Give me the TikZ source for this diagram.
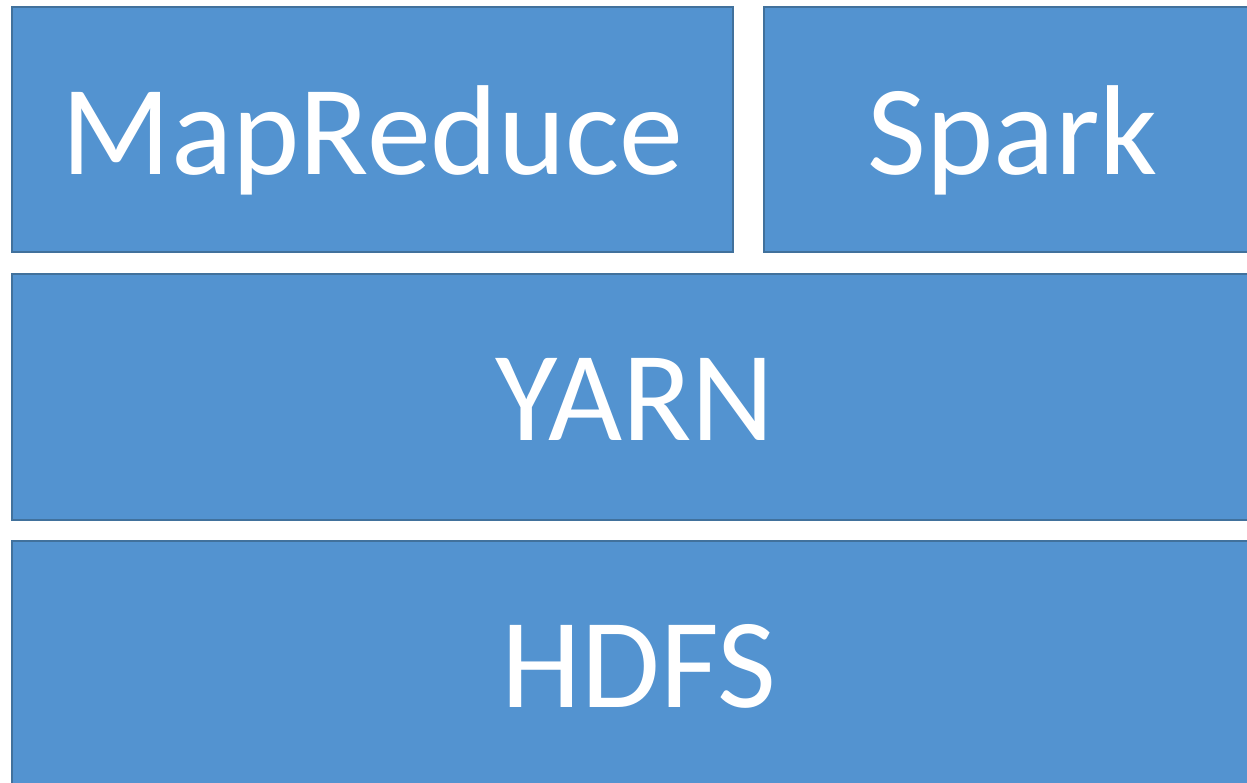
\documentclass[tikz,border=0pt]{standalone}
\usepackage{fontspec}
\setmainfont{Carlito}
\definecolor{boxfill}{HTML}{5393D0}
\definecolor{boxline}{HTML}{41719C}
\begin{document}
\begin{tikzpicture}[x=1pt,y=-1pt,
  box/.style={draw=boxline,fill=boxfill,line width=2pt,rectangle},
  lbl/.style={text=white,font=\fontsize{128}{128}\selectfont,anchor=base,inner sep=0pt}]
\useasboundingbox (0,0) rectangle (1247,783);
\clip (0,0) rectangle (1247,783);
\fill[white] (0,0) rectangle (1247,783);
\draw[box] (12,7) rectangle (733,252);
\draw[box] (764,7) rectangle (1262,252);
\draw[box] (12,274) rectangle (1258,520);
\draw[box] (12,541) rectangle (1258,790);
\node[lbl] (mr) at (372.5,175) {MapReduce};
\node[lbl] (sp) at (1013,175) {Spark};
\node[lbl] (yarn) at (635,440) {YARN};
\node[lbl] (hdfs) at (639,707) {HDFS};
\end{tikzpicture}
\end{document}
